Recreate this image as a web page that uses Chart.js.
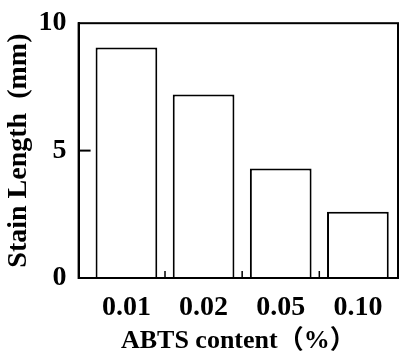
<!DOCTYPE html>
<html>
<head>
<meta charset="utf-8">
<script src="https://cdn.jsdelivr.net/npm/chart.js@4/dist/chart.umd.min.js"></script>
<style>
  html, body { margin: 0; padding: 0; background: #fff; }
</style>
</head>
<body>
<canvas id="stainChart" width="399" height="354"></canvas>
<script>
// Concentrations ABTS (%)
const categories = ['0.01', '0.02', '0.05', '0.10'];
// Longueur de tache (mm)
const stainLength = [9.05, 7.2, 4.3, 2.6];
// Graduations de l'axe Y
const yTicks = [0, 5, 10];

const serif = "'Liberation Serif', 'Times New Roman', 'Noto Sans CJK JP', serif";

// Cadre + petites graduations intérieures
const frameTicks = {
  id: 'frameTicks',
  afterDatasetsDraw(chart) {
    const { ctx, chartArea: a, scales } = chart;
    ctx.save();
    ctx.strokeStyle = '#000';
    ctx.lineWidth = 2;
    ctx.strokeRect(a.left, a.top, a.right - a.left, a.bottom - a.top);
    // graduation Y intérieure
    yTicks.slice(1, -1).forEach(v => {
      const y = scales.y.getPixelForValue(v);
      ctx.beginPath();
      ctx.moveTo(a.left, y);
      ctx.lineTo(a.left + 12, y);
      ctx.stroke();
    });
    // graduations X entre les barres
    ctx.lineWidth = 1.5;
    for (let i = 0; i < categories.length - 1; i++) {
      const x = scales.x.getPixelForValue(i + 0.5);
      ctx.beginPath();
      ctx.moveTo(x, a.bottom);
      ctx.lineTo(x, a.bottom - 7);
      ctx.stroke();
    }
    ctx.restore();
  }
};

new Chart(document.getElementById('stainChart'), {
  type: 'bar',
  data: {
    datasets: [{
      data: categories.map((c, i) => ({ x: i, y: stainLength[i] })),
      backgroundColor: '#fff',
      borderColor: '#000',
      borderWidth: 2,
      borderSkipped: 'bottom',
      barPercentage: 0.8,
      categoryPercentage: 1
    }]
  },
  options: {
    responsive: false,
    animation: false,
    devicePixelRatio: 1,
    layout: { padding: { top: 12, right: 1, left: 2, bottom: 0 } },
    plugins: {
      legend: { display: false },
      tooltip: { enabled: false }
    },
    scales: {
      x: {
        type: 'linear',
        offset: false,
        min: -0.62,
        max: 3.52,
        afterBuildTicks: axis => { axis.ticks = categories.map((c, i) => ({ value: i })); },
        grid: { display: false, drawTicks: false },
        border: { display: true, color: '#000', width: 2 },
        ticks: {
          callback: v => categories[v],
          color: '#000',
          font: { family: serif, size: 28, weight: 'bold', lineHeight: 1 },
          padding: 16,
          maxRotation: 0
        },
        title: {
          display: true,
          text: 'ABTS content（%）',
          color: '#000',
          font: { family: serif, size: 26, weight: 'bold', lineHeight: 1 },
          padding: { top: -10, bottom: 0 }
        }
      },
      y: {
        min: 0,
        max: 10,
        afterBuildTicks: axis => { axis.ticks = yTicks.map(v => ({ value: v })); },
        grid: { display: false, drawTicks: false },
        border: { display: true, color: '#000', width: 2 },
        ticks: {
          color: '#000',
          font: { family: serif, size: 28, weight: 'bold', lineHeight: 0.8 },
          padding: 12
        },
        title: {
          display: true,
          text: 'Stain Length  (mm)',
          color: '#000',
          font: { family: serif, size: 28, weight: 'bold' },
          padding: { top: 0, bottom: -9 }
        }
      }
    }
  },
  plugins: [frameTicks]
});
</script>
</body>
</html>
